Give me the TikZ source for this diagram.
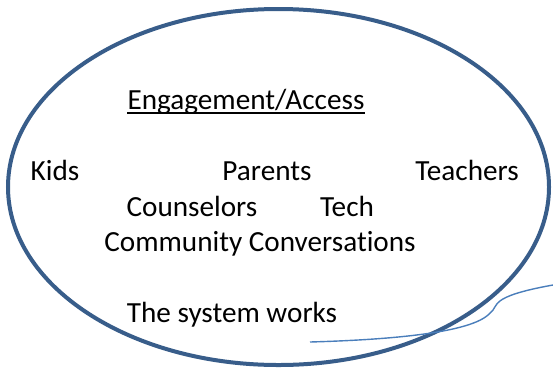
\documentclass[tikz,border=0pt]{standalone}
\usepackage{fontspec}
\setmainfont[Ligatures=NoCommon]{Carlito}
\definecolor{ringblue}{HTML}{385D8A}
\definecolor{lineblue}{HTML}{4A7EBB}
\begin{document}
\begin{tikzpicture}[x=1bp,y=-1bp,
  label/.style={inner sep=0pt, anchor=base, font=\fontsize{29.2bp}{35bp}\selectfont, text=black},
  ring/.style={draw=ringblue, line width=4bp},
  tail/.style={draw=lineblue, line width=1.4bp},
  rule/.style={draw=black, line width=1.8bp}]
\useasboundingbox (0,0) rectangle (553,372);
% outer ring
\draw[ring] (278.5,187) ellipse [x radius=270.5, y radius=178];
% heading and entries (positions are baselines)
\node[label] (head) at (246,109) {Engagement/Access};
\draw[rule] ([yshift=-4bp]head.base west) -- ([yshift=-4bp]head.base east);
\node[label] (kids) at (55,180) {Kids};
\node[label] (parents) at (267,180) {Parents};
\node[label] (teachers) at (467,180) {Teachers};
\node[label] (couns) at (192,216) {Counselors};
\node[label] (tech) at (347,216) {Tech};
\node[label] (comm) at (260,251) {Community Conversations};
\node[label] (works) at (232,322) {The system works};
% freehand tail at the lower right
\coordinate (t0) at (310,342);
\coordinate (t1) at (490,313);
\coordinate (t2) at (553,285);
\draw[tail] (t0) .. controls (380,340) and (472,334) .. (t1)
  .. controls (500,306) and (486,297) .. (t2);
\end{tikzpicture}
\end{document}
